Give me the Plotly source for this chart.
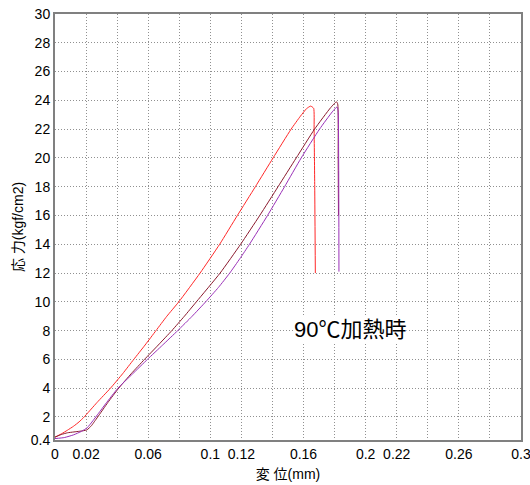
import plotly.graph_objects as go

# 変位 (mm) / 応力 (kgf/cm2) — three specimens, 90℃ heated
red_x = [0, 0.004, 0.008, 0.012, 0.0155, 0.0186, 0.027, 0.0357, 0.0435, 0.0507, 0.058, 0.065, 0.072, 0.0797,
         0.0934, 0.106, 0.1174, 0.129, 0.1404, 0.152, 0.158, 0.162, 0.1646, 0.1665, 0.1668, 0.1672, 0.1676]
red_y = [0.6, 0.82, 1.08, 1.36, 1.66, 1.98, 3, 4, 5, 6, 7, 8, 9, 10,
         12, 14, 16, 18, 20, 22, 22.9, 23.43, 23.6, 23.45, 22, 18, 12.0]

brown_x = [0, 0.004, 0.008, 0.0122, 0.016, 0.0205, 0.0235, 0.0255, 0.0275, 0.034, 0.041, 0.049, 0.0576, 0.0665,
           0.0752, 0.0833, 0.0910, 0.1063, 0.1195, 0.1318, 0.1436, 0.1553, 0.1671, 0.1775, 0.1812, 0.182, 0.1823, 0.1825]
brown_y = [0.6, 0.78, 0.9, 0.96, 1.01, 1.1, 1.4, 1.7, 2, 3, 4, 5, 6, 7,
           8, 9, 10, 12, 14, 16, 18, 20, 22, 23.5, 23.9, 23.75, 20, 16.0]

purple_x = [0, 0.006, 0.012, 0.017, 0.0207, 0.0245, 0.028, 0.0325, 0.0405, 0.050, 0.0595, 0.0693, 0.0790, 0.0883,
            0.0970, 0.1052, 0.1125, 0.1190, 0.1252, 0.1368, 0.1478, 0.1585, 0.1703, 0.1785, 0.1815, 0.1822, 0.1826, 0.1828]
purple_y = [0.5, 0.57, 0.76, 1.0, 1.25, 1.75, 2.25, 2.9, 4, 5, 6, 7, 8, 9,
            10, 11, 12, 13, 14, 16, 18, 20, 22, 23.2, 23.54, 23.3, 20, 12.1]

x_ticks = [0, 0.02, 0.04, 0.06, 0.08, 0.1, 0.12, 0.14, 0.16, 0.18, 0.2, 0.22, 0.24, 0.26, 0.28, 0.3]
x_labels = ["0", "0.02", "", "0.06", "", "0.1", "0.12", "", "0.16", "", "0.2", "0.22", "", "0.26", "", "0.3"]
y_ticks = [0.4, 2, 4, 6, 8, 10, 12, 14, 16, 18, 20, 22, 24, 26, 28, 30]
y_labels = ["0.4"] + [str(v) for v in y_ticks[1:]]

FONT = "Liberation Sans, Arial, Noto Sans CJK JP, sans-serif"

fig = go.Figure()
for xs, ys, col in [(red_x, red_y, "#FF2828"), (brown_x, brown_y, "#8B1A2E"), (purple_x, purple_y, "#9A30B8")]:
    fig.add_trace(go.Scatter(x=xs, y=ys, mode="lines",
                             line=dict(color=col, width=1, shape="spline", smoothing=0.5)))

fig.add_annotation(x=0.19, y=8.05, text="90℃加熱時", showarrow=False, xref="x", yref="y",
                   font=dict(size=22, color="#000", family=FONT), bgcolor="white", borderpad=0)

axis_common = dict(showline=True, mirror=True, linecolor="#808080", linewidth=2,
                   showgrid=True, gridcolor="#909090", griddash="1px,2px", gridwidth=1,
                   zeroline=False, ticks="", automargin=False, ticklabeloverflow="allow",
                   tickfont=dict(size=14, color="#000", family=FONT))

fig.update_xaxes(range=[0, 0.3], tickmode="array", tickvals=x_ticks, ticktext=x_labels,
                 title=dict(text="変 位(mm)", font=dict(size=14, color="#000", family=FONT), standoff=8),
                 **axis_common)
fig.update_yaxes(range=[0.4, 30], tickmode="array", tickvals=y_ticks, ticktext=y_labels,
                 title=dict(text="応 力(kgf/cm2)", font=dict(size=14, color="#000", family=FONT), standoff=4),
                 **axis_common)

fig.update_layout(width=530, height=485, showlegend=False,
                  margin=dict(l=55, r=9, t=14, b=45),
                  plot_bgcolor="white", paper_bgcolor="white",
                  font=dict(family=FONT))

fig.write_html("out.html", config={"displayModeBar": False},
               post_script="document.body.style.margin='0px';")
